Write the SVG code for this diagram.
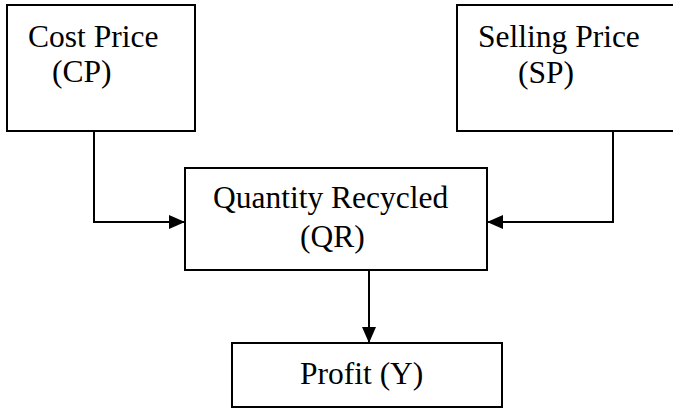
<svg xmlns="http://www.w3.org/2000/svg" width="673" height="408" viewBox="0 0 673 408">
<style>
.box{fill:#fff;stroke:#000;stroke-width:2}
.t{font-family:"Liberation Serif","Times New Roman",serif;font-size:31.5px;fill:#000}
.c{fill:none;stroke:#000;stroke-width:2}
</style>
<defs>
<marker id="ah" markerWidth="16" markerHeight="14" refX="16" refY="7" orient="auto" markerUnits="userSpaceOnUse">
<path d="M0,0 L16,7 L0,14 Z" fill="#000"/>
</marker>
</defs>
<rect width="673" height="408" fill="#fff"/>
<g id="connectors">
<path class="c" d="M94 131 V222 H185" marker-end="url(#ah)"/>
<path class="c" d="M613 131 V222 H487" marker-end="url(#ah)"/>
<path class="c" d="M369 270 V343" marker-end="url(#ah)"/>
</g>
<g id="cp">
<rect class="box" x="7" y="5" width="188" height="126"/>
<text class="t" x="28" y="47">Cost Price</text>
<text class="t" x="52" y="82">(CP)</text>
</g>
<g id="sp">
<rect class="box" x="457" y="5" width="230" height="126"/>
<text class="t" x="478" y="47">Selling Price</text>
<text class="t" x="518" y="83">(SP)</text>
</g>
<g id="qr">
<rect class="box" x="185" y="168" width="302" height="102"/>
<text class="t" x="213" y="208">Quantity Recycled</text>
<text class="t" x="300" y="247">(QR)</text>
</g>
<g id="profit">
<rect class="box" x="232" y="343" width="270" height="64"/>
<text class="t" x="300" y="384">Profit (Y)</text>
</g>
</svg>
